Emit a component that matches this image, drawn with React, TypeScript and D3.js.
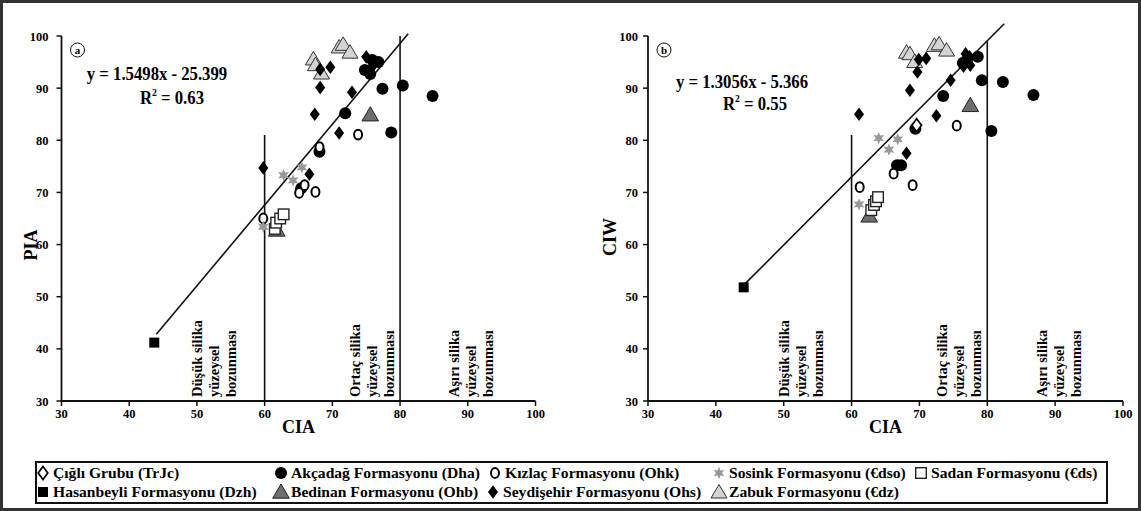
import * as d3 from "d3";

const W = 1141;
const H = 511;

const ticks = [30, 40, 50, 60, 70, 80, 90, 100];

// panel a: CIA vs PIA
const hasanbeyliA = [[43.7, 41.2]];
const bedinanA = [[61.8, 62.8], [75.6, 84.9]];
const zabukA = [[67.2, 95.6], [67.5, 94.5], [68.4, 92.9], [71.0, 97.9], [71.6, 98.4], [72.6, 96.9]];
const akcadagA = [[65.4, 70.8], [68.1, 77.8], [71.9, 85.2], [74.8, 93.5], [75.6, 92.7], [76.8, 95.0], [75.9, 95.4], [77.4, 89.9], [80.4, 90.5], [84.8, 88.5], [78.7, 81.5]];
const seydisehirA = [[59.8, 74.7], [66.6, 73.5], [67.4, 85.0], [68.2, 90.1], [68.2, 93.6], [69.7, 94.0], [71.0, 81.4], [72.9, 89.2], [75.0, 96.0], [75.3, 93.0], [76.0, 94.3]];
const kizlacA = [[59.8, 65.0], [65.1, 69.9], [67.5, 70.1], [65.9, 71.4], [68.1, 78.7], [73.8, 81.1]];
const sosinkA = [[62.8, 73.3], [64.2, 72.3], [65.5, 74.8], [59.8, 63.4]];
const sadanA = [[61.5, 63.0], [61.7, 64.2], [62.3, 65.0], [62.8, 65.8]];
const cigliA: number[][] = [];

// panel b: CIA vs CIW
const hasanbeyliB = [[44.1, 51.8]];
const bedinanB = [[62.6, 65.5], [77.5, 86.7]];
const zabukB = [[68.1, 96.9], [68.6, 96.6], [69.3, 95.1], [72.2, 98.2], [72.9, 98.5], [74.0, 97.3]];
const akcadagB = [[66.7, 75.2], [67.3, 75.2], [69.4, 82.2], [73.5, 88.5], [79.2, 91.5], [82.3, 91.2], [86.8, 88.7], [80.6, 81.8], [78.6, 96.0], [76.4, 94.8], [77.0, 95.4]];
const seydisehirB = [[61.1, 85.0], [68.6, 89.6], [69.7, 93.1], [69.9, 95.5], [71.0, 95.7], [72.5, 84.7], [74.6, 91.5], [68.1, 77.5], [76.8, 96.6], [77.5, 94.4], [76.5, 94.2], [77.4, 96.0]];
const kizlacB = [[61.2, 71.0], [66.2, 73.6], [69.0, 71.4], [75.5, 82.8]];
const sosinkB = [[64.0, 80.4], [65.5, 78.2], [66.8, 80.2], [61.1, 67.7]];
const sadanB = [[62.9, 66.6], [63.3, 67.6], [63.6, 68.3], [63.9, 69.1]];
const cigliB = [[69.6, 82.9]];

// regressions: slope, intercept, x-range
const fitA = [1.5498, -25.399];
const fitRangeA = [44, 81.2];
const fitB = [1.3056, -5.366];
const fitRangeB = [44.1, 82.5];

// zone boundaries [CIA, top]
const zonesA = [[60, 81], [80, 100]];
const zonesB = [[60, 81], [80, 99]];

const zoneTextX = [50, 73.3, 88];
const zoneText = [
  ["Düşük silika", "yüzeysel", "bozunması"],
  ["Ortaç silika", "yüzeysel", "bozunması"],
  ["Aşırı silika", "yüzeysel", "bozunması"],
];

const names: Record<string, string> = {
  cigli: "Çığlı Grubu (TrJc)",
  akcadag: "Akçadağ Formasyonu (Dha)",
  kizlac: "Kızlaç Formasyonu (Ohk)",
  sosink: "Sosink Formasyonu (€dso)",
  sadan: "Sadan Formasyonu (€ds)",
  hasanbeyli: "Hasanbeyli Formasyonu (Dzh)",
  bedinan: "Bedinan Formasyonu (Ohb)",
  seydisehir: "Seydişehir Formasyonu (Ohs)",
  zabuk: "Zabuk Formasyonu (€dz)",
};
const legendRow1 = ["cigli", "akcadag", "kizlac", "sosink", "sadan"];
const legendRow2 = ["hasanbeyli", "bedinan", "seydisehir", "zabuk"];

const drawOrder = ["bedinan", "zabuk", "akcadag", "seydisehir", "kizlac", "sosink", "sadan", "cigli", "hasanbeyli"];

const FONT = "'Liberation Serif', 'Times New Roman', serif";

const starPath = d3
  .lineRadial<[number, number]>()
  .curve(d3.curveLinearClosed)(d3.range(12).map((i) => [(i * Math.PI) / 6, i % 2 === 0 ? 6.2 : 3]))!;

function Marker({ kind, x, y }: { kind: string; x: number; y: number }) {
  const t = `translate(${x},${y})`;
  switch (kind) {
    case "akcadag":
      return <circle cx={x} cy={y} r={6} fill="#000" />;
    case "kizlac":
      return <ellipse cx={x} cy={y} rx={4} ry={4.9} fill="#fff" stroke="#000" strokeWidth={2} />;
    case "seydisehir":
      return <path transform={t} d="M0,-6.8L5,0L0,6.8L-5,0Z" fill="#000" />;
    case "cigli":
      return <path transform={t} d="M0,-6.5L4.8,0L0,6.5L-4.8,0Z" fill="#fff" stroke="#000" strokeWidth={1.7} />;
    case "sadan":
      return <rect x={x - 5.3} y={y - 5.3} width={10.6} height={10.6} fill="#fff" stroke="#222" strokeWidth={1.4} />;
    case "hasanbeyli":
      return <rect x={x - 5} y={y - 5} width={10} height={10} fill="#000" />;
    case "zabuk":
      return <path transform={t} d="M0,-7.5L8,6L-8,6Z" fill="#d4d4d4" stroke="#333" strokeWidth={1} />;
    case "bedinan":
      return <path transform={t} d="M0,-8L8.3,6.2L-8.3,6.2Z" fill="#6e6e6e" stroke="#222" strokeWidth={1} />;
    case "sosink":
      return <path transform={t} d={starPath} fill="#999" />;
    default:
      return null;
  }
}

const panels = [
  {
    id: "a",
    yLabel: "PIA",
    x0: 61.5,
    x1: 535.5,
    labelGap: 13,
    yLabelX: 37,
    yLabelY: 245,
    fit: fitA,
    fitRange: fitRangeA,
    zones: zonesA,
    eq: "y = 1.5498x - 25.399",
    r2: "0.63",
    eqX: 157,
    eqY: 80,
    r2X: 172,
    r2Y: 104,
    data: {
      hasanbeyli: hasanbeyliA, bedinan: bedinanA, zabuk: zabukA, akcadag: akcadagA, seydisehir: seydisehirA,
      kizlac: kizlacA, sosink: sosinkA, sadan: sadanA, cigli: cigliA,
    } as Record<string, number[][]>,
  },
  {
    id: "b",
    yLabel: "CIW",
    x0: 648,
    x1: 1123,
    labelGap: 10,
    yLabelX: 616,
    yLabelY: 237,
    fit: fitB,
    fitRange: fitRangeB,
    zones: zonesB,
    eq: "y = 1.3056x - 5.366",
    r2: "0.55",
    eqX: 742,
    eqY: 88,
    r2X: 755,
    r2Y: 110,
    data: {
      hasanbeyli: hasanbeyliB, bedinan: bedinanB, zabuk: zabukB, akcadag: akcadagB, seydisehir: seydisehirB,
      kizlac: kizlacB, sosink: sosinkB, sadan: sadanB, cigli: cigliB,
    } as Record<string, number[][]>,
  },
];

function Panel({ p }: { p: (typeof panels)[number] }) {
  const x = d3.scaleLinear().domain([30, 100]).range([p.x0, p.x1]);
  const y = d3.scaleLinear().domain([30, 100]).range([401, 36]);
  const line = d3
    .line<number>()
    .x((v) => x(v))
    .y((v) => y(p.fit[0] * v + p.fit[1]));

  return (
    <g fontFamily={FONT} fontWeight="bold" fill="#000">
      {p.zones.map(([cx, top]) => (
        <line key={cx} x1={x(cx)} x2={x(cx)} y1={y(30)} y2={y(top)} stroke="#111" strokeWidth={1.6} />
      ))}
      <path d={line(p.fitRange)!} stroke="#111" strokeWidth={1.6} fill="none" />

      {drawOrder.map((k) =>
        p.data[k].map((d, i) => <Marker key={k + i} kind={k} x={x(d[0])} y={y(d[1])} />)
      )}

      {/* axes */}
      <line x1={x(30)} x2={x(100)} y1={y(30)} y2={y(30)} stroke="#111" strokeWidth={1.8} />
      <line x1={x(30)} x2={x(30)} y1={y(30)} y2={y(100)} stroke="#111" strokeWidth={1.8} />
      {ticks.map((t) => (
        <g key={t}>
          <line x1={x(t)} x2={x(t)} y1={y(30)} y2={y(30) + 5} stroke="#111" strokeWidth={1.5} />
          <text x={x(t)} y={y(30) + 17} fontSize={12.5} textAnchor="middle">
            {t}
          </text>
          <line x1={x(30) - 5} x2={x(30)} y1={y(t)} y2={y(t)} stroke="#111" strokeWidth={1.5} />
          <text x={x(30) - p.labelGap} y={y(t) + 4.5} fontSize={12.5} textAnchor="end">
            {t}
          </text>
        </g>
      ))}

      <text x={(p.x0 + p.x1) / 2} y={433} fontSize={18} textAnchor="middle">
        CIA
      </text>
      <text transform={`translate(${p.yLabelX},${p.yLabelY}) rotate(-90)`} fontSize={18} textAnchor="middle">
        {p.yLabel}
      </text>

      {/* panel letter */}
      <circle cx={x(30) + 16} cy={50} r={7} fill="#fff" stroke="#111" strokeWidth={1} />
      <text x={x(30) + 16} y={54} fontSize={11} textAnchor="middle">
        {p.id}
      </text>

      {/* regression equation */}
      <g transform={`translate(${p.eqX},${p.eqY}) scale(0.88,1)`}>
        <text x={0} y={0} fontSize={19} textAnchor="middle">
          {p.eq}
        </text>
      </g>
      <g transform={`translate(${p.r2X},${p.r2Y}) scale(0.88,1)`}>
        <text x={0} y={0} fontSize={19} textAnchor="middle">
          R<tspan fontSize={11} dy={-8}>2</tspan>
          <tspan dy={8}> = {p.r2}</tspan>
        </text>
      </g>

      {/* zone labels */}
      {zoneText.map((lines, zi) =>
        lines.map((s, li) => (
          <text
            key={zi + "-" + li}
            transform={`translate(${x(zoneTextX[zi]) + 5 + li * 17},397) rotate(-90)`}
            fontSize={14.5}
          >
            {s}
          </text>
        ))
      )}
    </g>
  );
}

const row1X = [43, 281, 495, 719, 921];
const row2X = [43, 281, 493, 719];

function Legend() {
  const rows: [string[], number[], number][] = [
    [legendRow1, row1X, 473],
    [legendRow2, row2X, 492],
  ];
  return (
    <g fontFamily={FONT} fontWeight="bold" fontSize={15.6}>
      <rect x={36} y={462} width={1071} height={41} fill="#fff" stroke="#111" strokeWidth={2} />
      {rows.map(([keys, xs, cy]) =>
        keys.map((k, i) => (
          <g key={k}>
            <Marker kind={k} x={xs[i]} y={cy} />
            <text x={xs[i] + 10} y={cy + 5}>
              {names[k]}
            </text>
          </g>
        ))
      )}
    </g>
  );
}

export default function App() {
  return (
    <svg
      width={W}
      height={H}
      viewBox={`0 0 ${W} ${H}`}
      style={{ position: "absolute", left: 0, top: 0, background: "#fff" }}
    >
      <rect x={0} y={0} width={W} height={H} fill="#fff" />
      <rect x={1.5} y={1.5} width={W - 3} height={H - 3} fill="none" stroke="#333" strokeWidth={3} />
      {panels.map((p) => (
        <Panel key={p.id} p={p} />
      ))}
      <Legend />
    </svg>
  );
}
